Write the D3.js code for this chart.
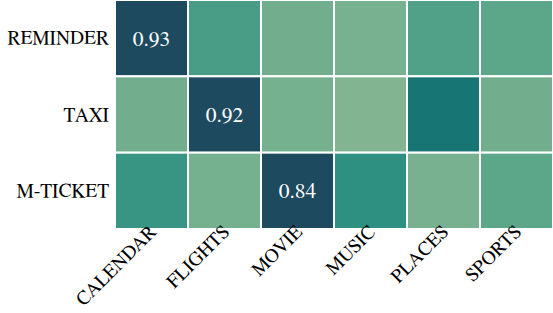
<!DOCTYPE html>
<html>
<head>
<meta charset="utf-8">
<script src="https://cdn.jsdelivr.net/npm/d3@7"></script>
<style>
html,body{margin:0;padding:0;background:#fff;}
svg{display:block;}
</style>
</head>
<body>
<svg id="chart" width="553" height="313"></svg>
<script>
const rows = ["REMINDER", "TAXI", "M-TICKET"];
const cols = ["CALENDAR", "FLIGHTS", "MOVIE", "MUSIC", "PLACES", "SPORTS"];
const reminderVals = [0.93, 0.17, 0.06, 0.04, 0.15, 0.12];
const taxiVals     = [0.06, 0.92, 0.05, 0.01, 0.40, 0.06];
const mticketVals  = [0.22, 0.05, 0.84, 0.26, 0.04, 0.12];
const annotated = [[0,0],[1,1],[2,2]];

const values = [reminderVals, taxiVals, mticketVals];
const cells = [];
rows.forEach((r, i) => cols.forEach((c, j) => cells.push({r, c, i, j, v: values[i][j]})));

const FONT = '"FreeSerif","Liberation Serif","Times New Roman",serif';
const svg = d3.select("#chart");
const margin = {left: 115, top: 0, right: 0, bottom: 84};
const W = 553, H = 313;

const x = d3.scaleBand().domain(cols).range([margin.left, W - margin.right]).padding(0);
const y = d3.scaleBand().domain(rows).range([margin.top, H - margin.bottom]).padding(0);

const color = d3.scaleLinear()
  .domain([0, 0.1, 0.2, 0.3, 0.45, 0.8])
  .range(["#86b592", "#64aa8b", "#3e9884", "#228b7d", "#126a6f", "#1e4a5f"])
  .clamp(true);

svg.append("g").selectAll("rect").data(cells).enter().append("rect")
  .attr("x", d => x(d.c))
  .attr("y", d => y(d.r))
  .attr("width", x.bandwidth())
  .attr("height", y.bandwidth())
  .attr("fill", d => color(d.v))
  .attr("stroke", "#fff")
  .attr("stroke-width", 2);

svg.append("g").selectAll("text").data(annotated).enter().append("text")
  .attr("x", d => x(cols[d[1]]) + x.bandwidth() / 2)
  .attr("y", d => y(rows[d[0]]) + y.bandwidth() / 2)
  .attr("text-anchor", "middle")
  .attr("dy", "0.35em")
  .attr("fill", "#fff")
  .style("font-family", FONT)
  .style("font-size", "21.5px")
  .text(d => values[d[0]][d[1]].toFixed(2));

const yAxis = svg.append("g")
  .attr("transform", `translate(${margin.left},0)`)
  .call(d3.axisLeft(y).tickSize(0).tickPadding(6));
yAxis.select(".domain").remove();
yAxis.selectAll("text").attr("fill", "#000")
  .style("font-family", FONT).style("font-size", "19.5px");

const xAxis = svg.append("g")
  .attr("transform", `translate(0,${y.range()[1]})`)
  .call(d3.axisBottom(x).tickSize(0).tickPadding(0));
xAxis.select(".domain").remove();
xAxis.selectAll("text")
  .attr("fill", "#000")
  .style("font-family", FONT).style("font-size", "19.5px")
  .attr("text-anchor", "end")
  .attr("y", 0)
  .attr("dy", "0")
  .attr("transform", "translate(6,4) rotate(-45)");
</script>
</body>
</html>
